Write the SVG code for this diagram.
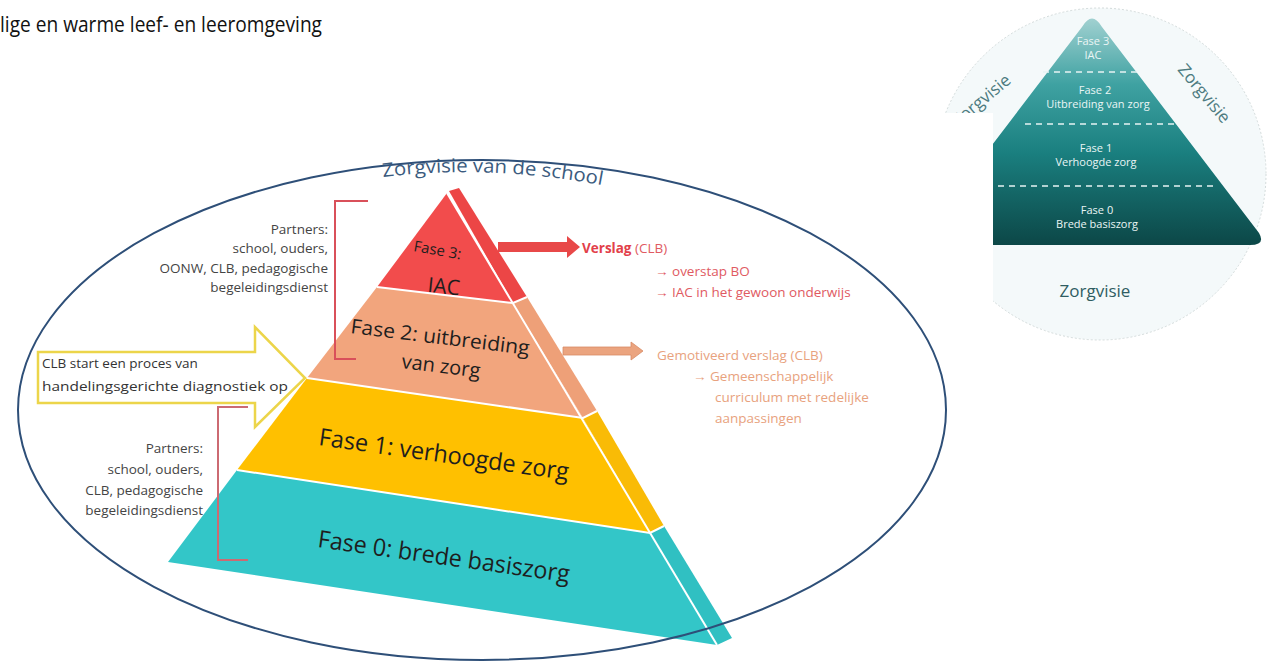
<svg xmlns="http://www.w3.org/2000/svg" width="1275" height="664" viewBox="0 0 1275 664">
<style>
  text { font-family: "Open Sans", "Liberation Sans", sans-serif; }
  .pyr { font-family: "Open Sans", "Liberation Sans", sans-serif; fill: #1e1e1e; }
  .partner { font-size: 13.5px; fill: #444; text-anchor: end; }
  .red { fill: #e05a62; font-size: 13.5px; }
  .sal { fill: #e8a27e; font-size: 13.5px; }
  .sep { stroke: #ffffff; stroke-width: 2; fill: none; }
  .small { fill: #eaf5f5; font-size: 11px; text-anchor: middle; }
  .bracket { fill: none; stroke-width: 2; }
</style>
<defs>
  <linearGradient id="tealGrad" x1="0" y1="15" x2="0" y2="245" gradientUnits="userSpaceOnUse">
    <stop offset="0" stop-color="#a6d3d3"/>
    <stop offset="0.3" stop-color="#3fa2a2"/>
    <stop offset="0.6" stop-color="#1a7f7f"/>
    <stop offset="1" stop-color="#0c4747"/>
  </linearGradient>
  <path id="arcText" d="M 383 177 Q 492 164 606 186"/>
</defs>
<rect width="1275" height="664" fill="#ffffff"/>

<text x="0" y="32" font-size="21" fill="#111" textLength="322" lengthAdjust="spacingAndGlyphs">lige en warme leef- en leeromgeving</text>

<!-- small reference image -->
<g id="small-image">
  <circle cx="1100" cy="174" r="166" fill="#f4f9fa" stroke="#d3dbdb" stroke-width="1" stroke-dasharray="2 2"/>
  <path d="M 1082 27 Q 1092 10 1102 27 L 1259 233 Q 1266 245 1250 245 L 932 245 Q 918 245 925 233 Z" fill="url(#tealGrad)"/>
  <g stroke="#e6f3f3" stroke-width="1.5" stroke-dasharray="6 5">
    <line x1="1043" y1="72" x2="1141" y2="72"/>
    <line x1="1025" y1="124" x2="1174" y2="124"/>
    <line x1="998" y1="186" x2="1218" y2="186"/>
  </g>
  <text class="small" x="1093" y="45">Fase 3</text>
  <text class="small" x="1093" y="59">IAC</text>
  <text class="small" x="1095" y="94">Fase 2</text>
  <text class="small" x="1098" y="108">Uitbreiding van zorg</text>
  <text class="small" x="1096" y="152">Fase 1</text>
  <text class="small" x="1096" y="166">Verhoogde zorg</text>
  <text class="small" x="1097" y="214">Fase 0</text>
  <text class="small" x="1097" y="228">Brede basiszorg</text>
  <text x="1012" y="82" font-size="17" fill="#4d7b80" text-anchor="end" transform="rotate(-40 1012 82)">Zorgvisie</text>
  <text x="1177" y="70" font-size="17" fill="#4d7b80" transform="rotate(50 1177 70)">Zorgvisie</text>
  <rect x="890" y="113" width="103" height="240" fill="#ffffff"/>
  <text x="1095" y="297" font-size="17" fill="#2f5d62" text-anchor="middle">Zorgvisie</text>
</g>

<!-- pyramid -->
<g id="pyramid">
  <g id="fase3">
    <polygon points="447,193 513,303 377,287" fill="#f24c4c"/>
    <polygon points="449,191 459,188 527,297 513,303" fill="#ec4646"/>
    <text class="pyr" x="413" y="251" font-size="15" transform="rotate(10 413 251)">Fase 3:</text>
    <text class="pyr" x="427" y="292" font-size="21" transform="rotate(6 427 292)">IAC</text>
  </g>
  <g id="fase2">
    <polygon points="377,287 513,303 583,418 307,378" fill="#f2a57d"/>
    <polygon points="513,303 527,297 597,411 583,418" fill="#eea078"/>
    <text class="pyr" x="350" y="333" font-size="20" textLength="180" lengthAdjust="spacingAndGlyphs" transform="rotate(7 350 333)">Fase 2: uitbreiding</text>
    <text class="pyr" x="401" y="368" font-size="20" transform="rotate(7 401 368)">van zorg</text>
  </g>
  <g id="fase1">
    <polygon points="307,378 583,418 650,533 237,470" fill="#ffc000"/>
    <polygon points="583,418 597,411 664,526 650,533" fill="#f9bb06"/>
    <text class="pyr" x="318" y="445" font-size="24" textLength="252" lengthAdjust="spacingAndGlyphs" transform="rotate(8 318 445)">Fase 1: verhoogde zorg</text>
  </g>
  <g id="fase0">
    <polygon points="237,470 650,533 717,645 168,562" fill="#33c6c8"/>
    <polygon points="650,533 664,526 732,638 717,645" fill="#30c0c2"/>
    <text class="pyr" x="317" y="547" font-size="24" textLength="254" lengthAdjust="spacingAndGlyphs" transform="rotate(8 317 547)">Fase 0: brede basiszorg</text>
  </g>
  <g id="pyramid-lines" class="sep">
    <line x1="447" y1="193" x2="717" y2="645"/>
    <polyline points="377,287 513,303 527,297"/>
    <polyline points="307,378 583,418 597,411"/>
    <polyline points="237,470 650,533 664,526"/>
  </g>
</g>

<!-- ellipse -->
<g id="ellipse">
  <ellipse cx="482" cy="410" rx="464" ry="250" fill="none" stroke="#2e4f78" stroke-width="2"/>
  <text font-size="19" fill="#3b5b7e"><textPath href="#arcText" textLength="220" lengthAdjust="spacingAndGlyphs">Zorgvisie van de school</textPath></text>
</g>

<!-- partners top -->
<g id="partners-top">
  <text class="partner" x="328" y="234">Partners:</text>
  <text class="partner" x="328" y="253">school, ouders,</text>
  <text class="partner" x="328" y="273">OONW, CLB, pedagogische</text>
  <text class="partner" x="328" y="292">begeleidingsdienst</text>
</g>

<!-- partners bottom -->
<g id="partners-bottom">
  <text class="partner" x="203" y="453">Partners:</text>
  <text class="partner" x="203" y="474">school, ouders,</text>
  <text class="partner" x="203" y="495">CLB, pedagogische</text>
  <text class="partner" x="203" y="515">begeleidingsdienst</text>
</g>

<!-- CLB arrow -->
<g id="clb-arrow">
  <path d="M 38 352 L 255 352 L 255 327 L 305 378 L 255 427 L 255 403 L 38 403 Z" fill="#ffffff" stroke="#ecd54a" stroke-width="2.5" stroke-linejoin="miter"/>
  <text x="42" y="368" font-size="13.5" fill="#333">CLB start een proces van</text>
  <text x="42" y="391" font-size="13.5" fill="#333" textLength="246" lengthAdjust="spacingAndGlyphs">handelingsgerichte diagnostiek op</text>
</g>

<!-- connectors -->
<g id="connectors">
  <polyline class="bracket" stroke="#d9505a" points="368,201 335,201 335,359 356,359"/>
  <polyline class="bracket" stroke="#cc6a72" points="248,407 218,407 218,560 248,560"/>
  <path d="M 498 242 L 567 242 L 567 236 L 580 247 L 567 258 L 567 252 L 498 252 Z" fill="#e84848"/>
  <path d="M 563 347 L 631 347 L 631 342 L 643 351 L 631 360 L 631 355 L 563 355 Z" fill="#eba47f" stroke="#d88c66" stroke-width="0.8"/>
</g>

<!-- outcomes -->
<g id="outcome-fase3">
  <text class="red" x="582" y="253"><tspan font-weight="bold" fill="#e2404a">Verslag</tspan> (CLB)</text>
  <text class="red" x="655" y="276">→ overstap BO</text>
  <text class="red" x="655" y="297">→ IAC in het gewoon onderwijs</text>
</g>
<g id="outcome-fase2">
  <text class="sal" x="657" y="360">Gemotiveerd verslag (CLB)</text>
  <text class="sal" x="693" y="381">→ Gemeenschappelijk</text>
  <text class="sal" x="715" y="402">curriculum met redelijke</text>
  <text class="sal" x="715" y="423">aanpassingen</text>
</g>
</svg>
